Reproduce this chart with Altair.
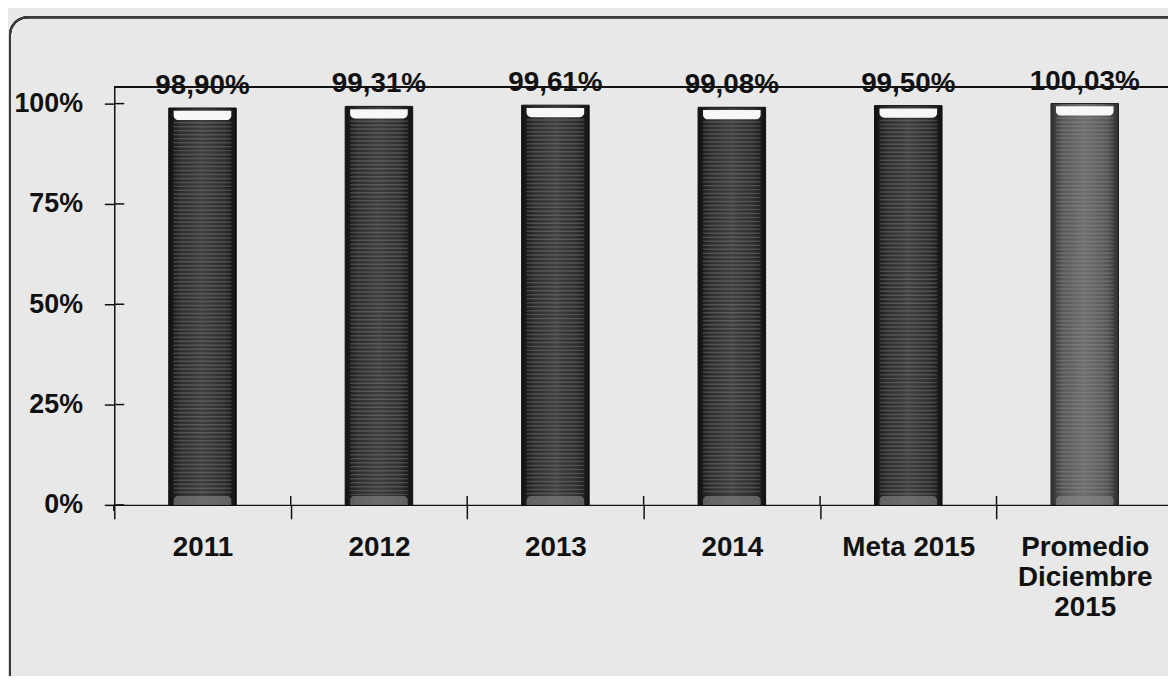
import altair as alt
import pandas as pd

categories = ["2011", "2012", "2013", "2014", "Meta 2015", "Promedio Diciembre 2015"]
values = [0.9890, 0.9931, 0.9961, 0.9908, 0.9950, 1.0003]
tones = ["dark", "dark", "dark", "dark", "dark", "light"]
y_ticks = [0, 0.25, 0.5, 0.75, 1.0]

df = pd.DataFrame({"cat": categories, "v": values, "tone": tones})
ticks_df = pd.DataFrame({"t": y_ticks})

W, H = 1061, 421
XR = 1066
FONT = "Liberation Sans"

xs = alt.Scale(domain=categories, paddingInner=0, paddingOuter=0, range=[0, XR])
ys = alt.Scale(domain=[0, 1.042], nice=False)

X = alt.X("cat:N", scale=xs, sort=categories, axis=alt.Axis(
    title=None, labelAngle=0, tickBand="extent", tickSize=14, tickColor="#111",
    domainColor="#111", domainWidth=1.5, tickWidth=1.5, labelPadding=15,
    labelFontSize=28, labelFontWeight="bold", labelFont=FONT, labelColor="#111",
    labelLineHeight=30,
    labelExpr="datum.label == 'Promedio Diciembre 2015' ? ['Promedio', 'Diciembre', '2015'] : datum.label"))
Y = alt.Y("v:Q", scale=ys, axis=alt.Axis(
    title=None, values=y_ticks, format=".0%", grid=False, tickSize=10,
    tickColor="#111", domainColor="#111", domainWidth=1.5, tickWidth=1.5,
    labelPadding=22, labelFontSize=27, labelFontWeight="bold", labelFont=FONT,
    labelColor="#111"))

base = alt.Chart(df)

frame = base.mark_rect(fill="transparent", stroke="#3a3a3a", strokeWidth=2,
                       cornerRadius=18, clip=False).encode(
    x=alt.value(-105), x2=alt.value(W + 30), y=alt.value(-70), y2=alt.value(H + 200)
)

dark_grad = {"gradient": "linear", "x1": 0, "x2": 1, "y1": 0, "y2": 0, "stops": [
    {"offset": 0, "color": "#101010"}, {"offset": 0.18, "color": "#2e2e2e"},
    {"offset": 0.5, "color": "#404040"}, {"offset": 0.82, "color": "#2e2e2e"},
    {"offset": 1, "color": "#101010"}]}
light_grad = {"gradient": "linear", "x1": 0, "x2": 1, "y1": 0, "y2": 0, "stops": [
    {"offset": 0, "color": "#2e2e2e"}, {"offset": 0.18, "color": "#595959"},
    {"offset": 0.5, "color": "#707070"}, {"offset": 0.82, "color": "#595959"},
    {"offset": 1, "color": "#2e2e2e"}]}

bars_dark = base.transform_filter("datum.tone == 'dark'").mark_bar(
    size=68, fill=dark_grad, stroke="#111", strokeWidth=1).encode(x=X, y=Y)
bars_light = base.transform_filter("datum.tone == 'light'").mark_bar(
    size=68, fill=light_grad, stroke="#222", strokeWidth=1).encode(x=X, y=Y)

stripes = base.transform_calculate(top="datum.v - 0.035").mark_rule(
    strokeWidth=58, strokeDash=[1.5, 2.5], color="#a0a0a0", opacity=0.3).encode(
    x=alt.X("cat:N", scale=xs, sort=categories),
    y=alt.Y("top:Q", scale=ys), y2=alt.datum(0.025))

bottom_bevel = base.mark_bar(size=58, color="#8a8a8a", opacity=0.6,
                             cornerRadiusTopLeft=4, cornerRadiusTopRight=4).encode(
    x=alt.X("cat:N", scale=xs, sort=categories),
    y=alt.datum(0.0), y2=alt.datum(0.022))

highlight = base.transform_calculate(a="datum.v - 0.007", b="datum.v - 0.03").mark_bar(
    size=58, color="#f7f7f7", cornerRadiusBottomLeft=9, cornerRadiusBottomRight=9).encode(
    x=alt.X("cat:N", scale=xs, sort=categories),
    y=alt.Y("a:Q", scale=ys), y2="b:Q")

labels = base.transform_calculate(
    lbl="replace(format(datum.v, '.2%'), '.', ',')").mark_text(
    dy=-14, baseline="alphabetic", fontSize=28, fontWeight="bold", font=FONT,
    color="#111").encode(x=alt.X("cat:N", scale=xs, sort=categories),
                         y=alt.Y("v:Q", scale=ys), text="lbl:N")

top_line = base.mark_rule(color="#111", strokeWidth=1.5).encode(
    y=alt.datum(1.042), x=alt.value(0), x2=alt.value(XR))

y_inner = alt.Chart(ticks_df).mark_rule(color="#111", strokeWidth=1.5).encode(
    y=alt.Y("t:Q", scale=ys), x=alt.value(0), x2=alt.value(10))

x_inner = base.transform_filter("datum.cat != '2011'").mark_rule(
    color="#111", strokeWidth=1.5).encode(
    x=alt.X("cat:N", scale=xs, sort=categories, bandPosition=0),
    y=alt.value(H - 9), y2=alt.value(H))

left_ext = base.mark_rule(color="#111", strokeWidth=1.5).encode(
    x=alt.value(0), y=alt.value(H), y2=alt.value(H + 6))

chart = alt.layer(
    frame, bars_dark, bars_light, stripes, bottom_bevel, highlight, labels,
    top_line, y_inner, x_inner, left_ext
).properties(
    width=W, height=H,
    autosize=alt.AutoSizeParams(type="none"),
    padding={"left": 107, "top": 77, "right": 0, "bottom": 170},
    background="#e8e8e8",
).configure_view(stroke=None)

chart.save("out.html", embed_options={"renderer": "svg", "actions": False})
